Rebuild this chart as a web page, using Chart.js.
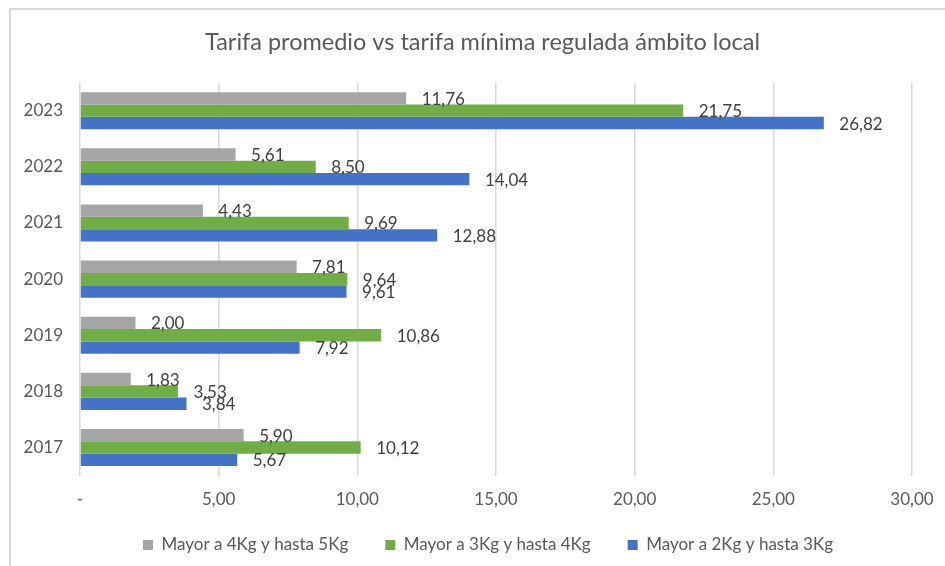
<!DOCTYPE html>
<html>
<head>
<meta charset="utf-8">
<script src="https://cdn.jsdelivr.net/npm/chart.js@4"></script>
<style>
  html, body { margin: 0; padding: 0; background: #fff; }
  #wrap { position: relative; width: 945px; height: 566px; overflow: hidden; }
  #frame { position: absolute; left: 9px; top: 8px; width: 1000px; height: 700px;
           border-top: 2px solid #d9d9d9; border-left: 2px solid #d9d9d9; }
  canvas { position: absolute; left: 0; top: 0; }
</style>
</head>
<body>
<div id="wrap">
  <div id="frame"></div>
  <canvas id="chart" width="945" height="566"></canvas>
</div>
<script>
const years = ['2023', '2022', '2021', '2020', '2019', '2018', '2017'];
const seriesNames = ['Mayor a 4Kg y hasta 5Kg', 'Mayor a 3Kg y hasta 4Kg', 'Mayor a 2Kg y hasta 3Kg'];
const from4to5 = [11.76, 5.61, 4.43, 7.81, 2.00, 1.83, 5.90];
const from3to4 = [21.75, 8.50, 9.69, 9.64, 10.86, 3.53, 10.12];
const from2to3 = [26.82, 14.04, 12.88, 9.61, 7.92, 3.84, 5.67];
const xTicks = [0, 5, 10, 15, 20, 25, 30];
const colors = ['#A5A5A5', '#70AD47', '#4472C4'];

const fontFamily = 'Lato, "Open Sans", sans-serif';
const textColor = '#595959';

function fmt(v) {
    return v.toFixed(2).replace('.', ',');
}

// value labels at the end of each bar
const barLabels = {
    id: 'barLabels',
    afterDatasetsDraw(chart) {
        const ctx = chart.ctx;
        ctx.save();
        ctx.font = '17px ' + fontFamily;
        ctx.fillStyle = '#404040';
        ctx.textAlign = 'left';
        ctx.textBaseline = 'middle';
        chart.data.datasets.forEach((ds, i) => {
            const meta = chart.getDatasetMeta(i);
            meta.data.forEach((bar, j) => {
                ctx.fillText(fmt(ds.data[j]), bar.x + 15.5, bar.y + 1);
            });
        });
        ctx.restore();
    }
};

// legend sits closer to the axis labels than its item spacing allows
const legendNudge = {
    id: 'legendNudge',
    afterLayout(chart) {
        const lg = chart.legend;
        lg.top -= 24.5;
        lg.bottom -= 24.5;
        lg.left += 5.5;
        lg.right += 5.5;
    }
};

const ctx = document.getElementById('chart').getContext('2d');
new Chart(ctx, {
    type: 'bar',
    data: {
        labels: years,
        datasets: [
            { label: seriesNames[0], data: from4to5, backgroundColor: colors[0] },
            { label: seriesNames[1], data: from3to4, backgroundColor: colors[1] },
            { label: seriesNames[2], data: from2to3, backgroundColor: colors[2] }
        ]
    },
    options: {
        indexAxis: 'y',
        responsive: false,
        animation: false,
        categoryPercentage: 0.66,
        barPercentage: 1.0,
        layout: { padding: { left: 20, right: 0, top: 0, bottom: -22 } },
        scales: {
            x: {
                min: 0,
                max: 30,
                afterBuildTicks(scale) {
                    scale.ticks = xTicks.map(v => ({ value: v }));
                },
                afterFit(scale) { scale.paddingRight = 33; },
                grid: { color: '#d9d9d9', lineWidth: 1.5, drawTicks: false },
                border: { display: false },
                ticks: {
                    padding: 14,
                    color: textColor,
                    font: { family: fontFamily, size: 17 },
                    callback: v => v === 0 ? '-' : fmt(v)
                }
            },
            y: {
                afterFit(scale) { scale.width = 60; },
                grid: { display: false, drawTicks: false },
                border: { display: false },
                ticks: {
                    padding: 17,
                    color: textColor,
                    font: { family: fontFamily, size: 17 }
                }
            }
        },
        plugins: {
            title: {
                display: true,
                text: 'Tarifa promedio vs tarifa mínima regulada ámbito local',
                color: textColor,
                font: { family: fontFamily, size: 23.5, weight: 'normal' },
                padding: { top: 28, bottom: 26.4 }
            },
            legend: {
                position: 'bottom',
                labels: {
                    boxWidth: 10,
                    boxHeight: 10,
                    padding: 37,
                    color: textColor,
                    font: { family: fontFamily, size: 17 }
                }
            },
            tooltip: { enabled: false }
        }
    },
    plugins: [barLabels, legendNudge]
});
</script>
</body>
</html>
